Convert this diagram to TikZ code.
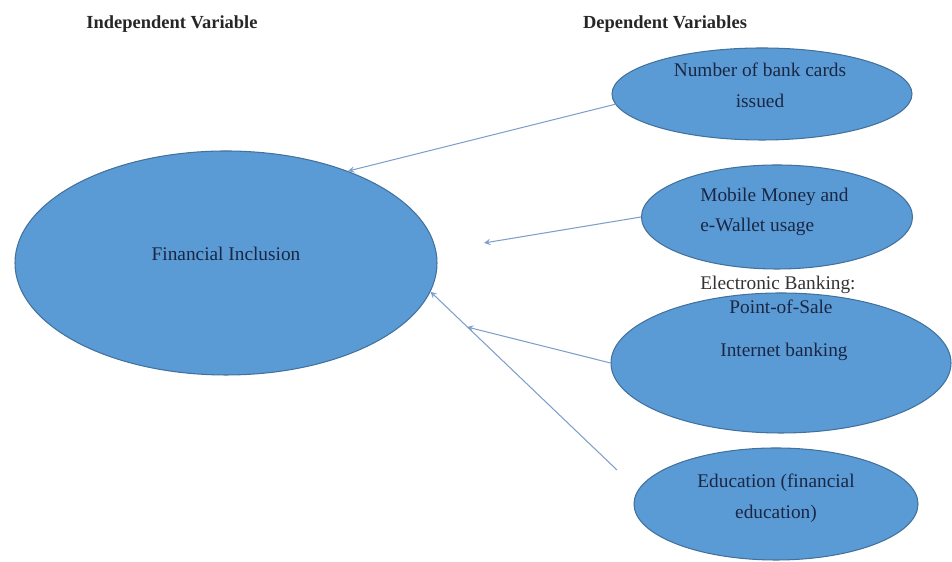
\documentclass[tikz,border=0pt]{standalone}
\usepackage{fontspec}
\setmainfont{Liberation Serif}
\usepackage{xcolor}
\usepackage{tikz}
\usetikzlibrary{shapes,shapes.geometric,arrows,positioning}

\definecolor{ovalfill}{HTML}{5B9BD5}
\definecolor{ovaldraw}{HTML}{41719C}
\definecolor{ovaltext}{HTML}{1A2744}
\definecolor{linkcol}{HTML}{7F9FC8}

\begin{document}
\begin{tikzpicture}[
                varoval/.style={ellipse, draw=ovaldraw, fill=ovalfill, line width=0.6pt, inner sep=0pt},
                ovaltxt/.style={text=ovaltext, font=\fontsize{11}{17.5}\selectfont, align=center, inner sep=0pt},
                headtxt/.style={text=black!85, font=\fontsize{10.5}{12}\selectfont\bfseries, inner sep=0pt},
                link/.style={->, >=stealth, linkcol, line width=0.6pt, shorten >=0pt}
            ]
                \useasboundingbox (0,0) rectangle (19.04,11.24);

                % Column headings
                \node[headtxt] (indep) at (3.44,10.76) {Independent Variable};
                \node[headtxt] (dep) at (13.30,10.76) {Dependent Variables};

                % Independent variable
                \node[varoval, minimum width=8.44cm, minimum height=4.48cm] (fin) at (4.52,5.98) {};
                \node[ovaltxt] (fintxt) at (4.52,6.16) {Financial Inclusion};

                % Dependent variables
                \node[varoval, minimum width=6.00cm, minimum height=1.84cm] (bank) at (15.24,9.36) {};
                \node[ovaltxt] (banktxt) at (15.20,9.54) {Number of bank cards\\issued};

                \node[varoval, minimum width=5.42cm, minimum height=2.08cm] (mob) at (15.54,6.90) {};
                \node[ovaltxt, align=left, anchor=west] (mobtxt) at (14.00,7.00) {Mobile Money and\\e-Wallet usage};

                \node[varoval, minimum width=6.80cm, minimum height=2.80cm] (eb) at (15.62,3.98) {};
                \node[ovaltxt, text=black!80] (ebhead) at (15.56,5.54) {Electronic Banking:};
                \node[ovaltxt] (pos) at (15.62,5.10) {Point-of-Sale};
                \node[ovaltxt] (inet) at (15.68,4.20) {Internet banking};

                \node[varoval, minimum width=5.68cm, minimum height=2.24cm] (edu) at (15.52,1.16) {};
                \node[ovaltxt] (edutxt) at (15.52,1.28) {Education (financial\\education)};

                % Loose arrow ends
                \coordinate (mobend) at (9.68,6.38);
                \coordinate (ebend) at (9.34,4.70);
                \coordinate (edustart) at (12.34,1.84);

                % Arrows into financial inclusion
                \draw[link] (bank.184) -- (fin.37);
                \draw[link] (mob.west) -- (mobend);
                \draw[link] (eb.west) -- (ebend);
                \draw[link] (edustart) -- (fin.352);
            \end{tikzpicture}
\end{document}
